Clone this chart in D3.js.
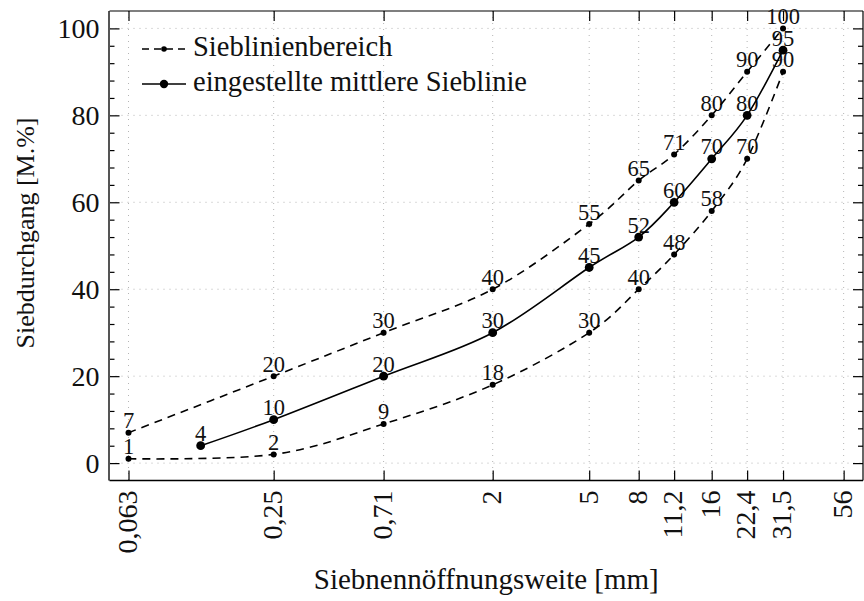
<!DOCTYPE html>
<html>
<head>
<meta charset="utf-8">
<script src="https://cdn.jsdelivr.net/npm/d3@7/dist/d3.min.js"></script>
<style>
  html, body { margin: 0; padding: 0; background: #fff; }
  svg { display: block; }
  text { font-family: "Liberation Serif", "Times New Roman", serif; fill: #111; }
</style>
</head>
<body>
<svg id="chart" width="864" height="601"></svg>
<script>
// ---------- data ----------
const xTicks = [0.063, 0.25, 0.71, 2, 5, 8, 11.2, 16, 22.4, 31.5, 56];
const xTickLabels = ["0,063", "0,25", "0,71", "2", "5", "8", "11,2", "16", "22,4", "31,5", "56"];
const yTicks = [0, 20, 40, 60, 80, 100];
const yMinorTicks = [4, 8, 12, 16, 24, 28, 32, 36, 44, 48, 52, 56, 64, 68, 72, 76, 84, 88, 92, 96];

const rangeSieves = [0.063, 0.25, 0.71, 2, 5, 8, 11.2, 16, 22.4, 31.5];
const upperLimit = [7, 20, 30, 40, 55, 65, 71, 80, 90, 100];
const lowerLimit = [1, 2, 9, 18, 30, 40, 48, 58, 70, 90];

const meanSieves = [0.125, 0.25, 0.71, 2, 5, 8, 11.2, 16, 22.4, 31.5];
const meanCurve = [4, 10, 20, 30, 45, 52, 60, 70, 80, 95];

const legendLabels = ["Sieblinienbereich", "eingestellte mittlere Sieblinie"];
const xTitle = "Siebnennöffnungsweite [mm]";
const yTitle = "Siebdurchgang [M.%]";

// ---------- layout ----------
const L = 109.5, R = 863, T = 11, B = 480.5;
const svg = d3.select("#chart");

const x = d3.scaleLog().domain([0.0526, 67.3]).range([L, R]);
const y = d3.scaleLinear().domain([-4, 104]).range([B, T]);

// grid
const grid = svg.append("g").attr("stroke", "#b5b5b5").attr("stroke-width", 1).attr("stroke-dasharray", "1,5");
grid.selectAll("line.gx").data(xTicks).join("line")
  .attr("x1", d => x(d)).attr("x2", d => x(d)).attr("y1", T).attr("y2", B);
grid.selectAll("line.gy").data(yTicks).join("line")
  .attr("y1", d => y(d)).attr("y2", d => y(d)).attr("x1", L).attr("x2", R);

// axes
function styleAxis(g) {
  g.select(".domain").remove();
  g.selectAll(".tick line").attr("stroke", "#000").attr("stroke-width", 1.2);
}
const xAxis = svg.append("g").attr("transform", `translate(0,${B})`)
  .call(d3.axisBottom(x).tickValues(xTicks).tickFormat((d, i) => xTickLabels[i]).tickSizeInner(-10).tickSizeOuter(0))
  .call(styleAxis);
xAxis.selectAll(".tick text")
  .attr("transform", "rotate(-90)")
  .attr("x", -10).attr("y", 0).attr("dy", "0.28em")
  .attr("text-anchor", "end")
  .style("font-size", "28px").style("font-family", "Liberation Serif, serif").attr("fill", "#111");

svg.append("g").attr("transform", `translate(0,${T})`)
  .call(d3.axisTop(x).tickValues(xTicks).tickFormat("").tickSizeInner(-10).tickSizeOuter(0))
  .call(styleAxis);

const yAxis = svg.append("g").attr("transform", `translate(${L},0)`)
  .call(d3.axisLeft(y).tickValues(yTicks).tickSizeInner(-10).tickSizeOuter(0).tickPadding(10))
  .call(styleAxis);
yAxis.selectAll(".tick text")
  .attr("dy", "0.33em")
  .style("font-size", "28px").style("font-family", "Liberation Serif, serif").attr("fill", "#111");
svg.append("g").attr("transform", `translate(${L},0)`)
  .call(d3.axisLeft(y).tickValues(yMinorTicks).tickFormat("").tickSizeInner(-5).tickSizeOuter(0))
  .call(styleAxis);
svg.append("g").attr("transform", `translate(${R},0)`)
  .call(d3.axisRight(y).tickValues(yTicks).tickFormat("").tickSizeInner(-10).tickSizeOuter(0))
  .call(styleAxis);
svg.append("g").attr("transform", `translate(${R},0)`)
  .call(d3.axisRight(y).tickValues(yMinorTicks).tickFormat("").tickSizeInner(-5).tickSizeOuter(0))
  .call(styleAxis);

// frame
svg.append("line").attr("x1", L - 0.5).attr("x2", L - 0.5).attr("y1", T).attr("y2", B).attr("stroke", "#555").attr("stroke-width", 2);
svg.append("line").attr("x1", L).attr("x2", R).attr("y1", B).attr("y2", B).attr("stroke", "#000").attr("stroke-width", 1.4);
svg.append("line").attr("x1", L).attr("x2", R).attr("y1", T).attr("y2", T).attr("stroke", "#000").attr("stroke-width", 1.2);
svg.append("line").attr("x1", R).attr("x2", R).attr("y1", T).attr("y2", B).attr("stroke", "#000").attr("stroke-width", 1.2);

// axis titles
svg.append("text").attr("x", (L + R) / 2).attr("y", 589).attr("text-anchor", "middle")
  .style("font-size", "29px").text(xTitle);
svg.append("text").attr("transform", `translate(33.5,233) rotate(-90)`).attr("text-anchor", "middle")
  .style("font-size", "26px").text(yTitle);

// series
const series = [
  { xs: rangeSieves, ys: upperLimit, dash: "8,6", r: 3 },
  { xs: rangeSieves, ys: lowerLimit, dash: "8,6", r: 3 },
  { xs: meanSieves, ys: meanCurve, dash: null, r: 4.4 }
];
const line = d3.line().x(d => x(d[0])).y(d => y(d[1])).curve(d3.curveCardinal.tension(0));

// labels first (lines drawn over)
series.forEach(s => {
  const pts = s.xs.map((v, i) => [v, s.ys[i]]);
  svg.append("g").selectAll("text").data(pts).join("text")
    .attr("x", d => x(d[0])).attr("y", d => y(d[1]) - 4.5)
    .attr("text-anchor", "middle")
    .style("font-size", "22.5px")
    .text(d => d[1]);
});
series.forEach(s => {
  const pts = s.xs.map((v, i) => [v, s.ys[i]]);
  svg.append("path").datum(pts).attr("d", line)
    .attr("fill", "none").attr("stroke", "#000").attr("stroke-width", 1.6)
    .attr("stroke-dasharray", s.dash);
  svg.append("g").selectAll("circle").data(pts).join("circle")
    .attr("cx", d => x(d[0])).attr("cy", d => y(d[1])).attr("r", s.r).attr("fill", "#000");
});

// legend
const legend = svg.append("g");
const legendRows = [
  { label: legendLabels[0], dash: "7,5", r: 2.8, ly: 49, ty: 56 },
  { label: legendLabels[1], dash: null, r: 4.2, ly: 84, ty: 91 }
];
legendRows.forEach(row => {
  legend.append("line").attr("x1", 142).attr("x2", 186).attr("y1", row.ly).attr("y2", row.ly)
    .attr("stroke", "#000").attr("stroke-width", 1.6).attr("stroke-dasharray", row.dash);
  legend.append("circle").attr("cx", 164).attr("cy", row.ly).attr("r", row.r).attr("fill", "#000");
  legend.append("text").attr("x", 193).attr("y", row.ty).style("font-size", "28.5px").text(row.label);
});
</script>
</body>
</html>
